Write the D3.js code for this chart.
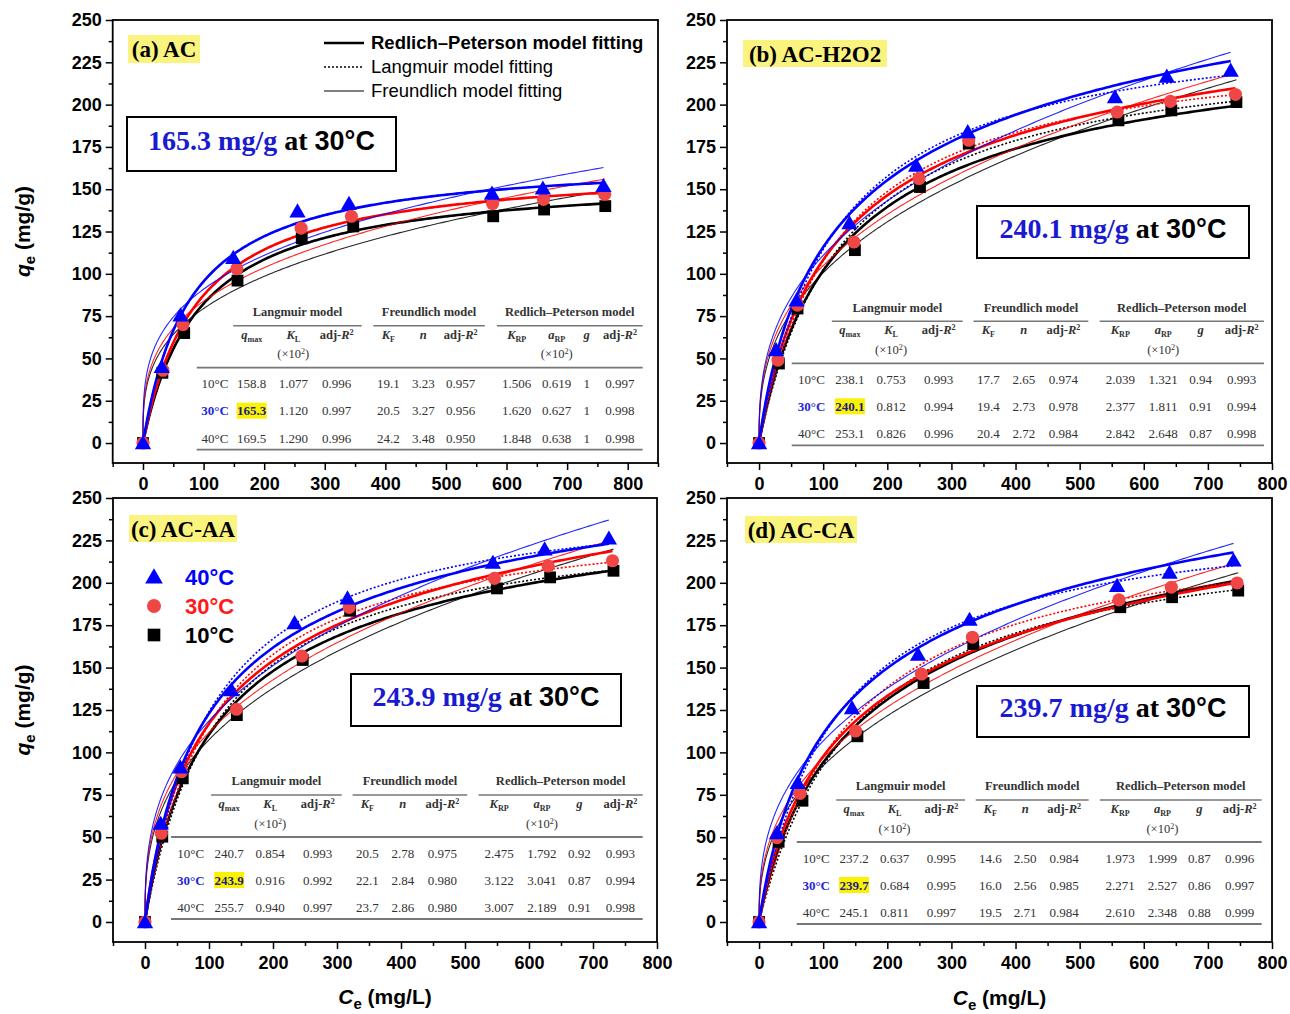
<!DOCTYPE html>
<html><head><meta charset="utf-8">
<script src="https://cdn.jsdelivr.net/npm/d3@7"></script>
<style>body{margin:0;background:#fff}svg{display:block}</style>
</head><body>
<svg id="chart" width="1290" height="1014"></svg>
<script>
// ---------------- DATA ----------------
const temps = ["10°C", "30°C", "40°C"];
const panelTitles = ["(a) AC", "(b) AC-H2O2", "(c) AC-AA", "(d) AC-CA"];
const capacityValues = ["165.3", "240.1", "243.9", "239.7"];
const xTickValues = [0, 100, 200, 300, 400, 500, 600, 700, 800];
const yTickValues = [0, 25, 50, 75, 100, 125, 150, 175, 200, 225, 250];
const legendLabels = ["Redlich\u2013Peterson model fitting", "Langmuir model fitting", "Freundlich model fitting"];
const groupNames = ["Langmuir model", "Freundlich model", "Redlich\u2013Peterson model"];

// (a) AC
const ceA10 = [0, 32, 68, 156, 262, 347, 578, 662, 763];
const qeA10 = [0, 41.5, 65, 96, 121, 128, 134, 138, 140];
const ceA30 = [0, 33, 66, 155, 261, 344, 577, 661, 762];
const qeA30 = [0, 43, 70, 103, 127, 134, 141.5, 144, 147];
const ceA40 = [0, 31, 62, 149, 255, 340, 576, 660, 760];
const qeA40 = [0, 45, 75.5, 109.5, 137, 141.5, 147.5, 150.5, 152];
// (b) AC-H2O2
const ceB10 = [0, 31, 60, 149.5, 251, 327, 560.5, 643, 744.5];
const qeB10 = [0, 47, 79.5, 114, 151.3, 177, 190.7, 196.6, 201.5];
const ceB30 = [0, 29.5, 60, 148, 249.5, 327, 558.5, 641.5, 743];
const qeB30 = [0, 49, 81.5, 118.8, 156.3, 178.9, 195.6, 201.9, 206];
const ceB40 = [0, 26.5, 58.5, 141, 245, 325.5, 555, 636, 735.5];
const qeB40 = [0, 55, 84.4, 130, 164, 183.8, 204.4, 216.6, 220.2];
// (c) AC-AA
const ceC10 = [0, 27, 59, 143.5, 246.5, 320.5, 550, 633, 732];
const qeC10 = [0, 50.3, 84.7, 122, 154.5, 183.5, 196.7, 203.2, 207.1];
const ceC30 = [0, 25.5, 57, 143, 245, 319, 546, 630, 730.5];
const qeC30 = [0, 52.3, 88.6, 125.4, 156.8, 185.5, 202.6, 209.9, 213];
const ceC40 = [0, 24.5, 55.3, 135, 233.7, 316.4, 543.6, 624.4, 724.8];
const qeC40 = [0, 58, 91.2, 136.8, 176.3, 190.9, 211.9, 219.8, 226.2];
// (d) AC-CA
const ceD10 = [0, 30.5, 67.7, 153.4, 256.6, 334, 563.4, 644.2, 747.3];
const qeD10 = [0, 47.3, 71.5, 109.5, 140.9, 163.9, 185.6, 191.5, 195.4];
const ceD30 = [0, 28, 64, 150.6, 253.3, 332.8, 561.2, 643, 745.6];
const qeD30 = [0, 49.7, 75.8, 112.6, 146.2, 167.9, 189.9, 197.4, 199.9];
const ceD40 = [0, 28, 60.3, 145, 248, 328.3, 558.4, 640.2, 740];
const qeD40 = [0, 52.5, 82, 126.2, 157.7, 178.3, 198.3, 206.1, 213.2];

// Table rows: qmax, KL(x10^2), adjR2, KF, n, adjR2, KRP, aRP(x10^2), g, adjR2
const tabA10 = ["158.8","1.077","0.996","19.1","3.23","0.957","1.506","0.619","1","0.997"];
const tabA30 = ["165.3","1.120","0.997","20.5","3.27","0.956","1.620","0.627","1","0.998"];
const tabA40 = ["169.5","1.290","0.996","24.2","3.48","0.950","1.848","0.638","1","0.998"];
const tabB10 = ["238.1","0.753","0.993","17.7","2.65","0.974","2.039","1.321","0.94","0.993"];
const tabB30 = ["240.1","0.812","0.994","19.4","2.73","0.978","2.377","1.811","0.91","0.994"];
const tabB40 = ["253.1","0.826","0.996","20.4","2.72","0.984","2.842","2.648","0.87","0.998"];
const tabC10 = ["240.7","0.854","0.993","20.5","2.78","0.975","2.475","1.792","0.92","0.993"];
const tabC30 = ["243.9","0.916","0.992","22.1","2.84","0.980","3.122","3.041","0.87","0.994"];
const tabC40 = ["255.7","0.940","0.997","23.7","2.86","0.980","3.007","2.189","0.91","0.998"];
const tabD10 = ["237.2","0.637","0.995","14.6","2.50","0.984","1.973","1.999","0.87","0.996"];
const tabD30 = ["239.7","0.684","0.995","16.0","2.56","0.985","2.271","2.527","0.86","0.997"];
const tabD40 = ["245.1","0.811","0.997","19.5","2.71","0.984","2.610","2.348","0.88","0.999"];

// ---------------- LAYOUT / STYLE ----------------
const SANS = "'Liberation Sans', Arial, sans-serif";
const SERIF = "'Liberation Serif', 'Times New Roman', serif";
const lineColor = ["#000000", "#ff0000", "#0000ff"];
const markColor = ["#000000", "#f04646", "#0000ff"];
const symbols = [d3.symbolSquare, d3.symbolCircle, d3.symbolTriangle];
const symSize = [140, 135, 115];
const yDomain = [-11.8, 250];

const panelData = [
  {ce: [ceA10, ceA30, ceA40], qe: [qeA10, qeA30, qeA40], tab: [tabA10, tabA30, tabA40]},
  {ce: [ceB10, ceB30, ceB40], qe: [qeB10, qeB30, qeB40], tab: [tabB10, tabB30, tabB40]},
  {ce: [ceC10, ceC30, ceC40], qe: [qeC10, qeC30, qeC40], tab: [tabC10, tabC30, tabC40]},
  {ce: [ceD10, ceD30, ceD40], qe: [qeD10, qeD30, qeD40], tab: [tabD10, tabD30, tabD40]}
];

const fracA = {cols: [0.041, 0.1233, 0.2166, 0.3139, 0.4296, 0.5081, 0.5919, 0.7175, 0.8072, 0.8744, 0.9491],
  groups: [[0.082, 0.370], [0.396, 0.646], [0.673, 1.0]]};
const fracB = {cols: [0.042, 0.1233, 0.2104, 0.3111, 0.4163, 0.4915, 0.5753, 0.6957, 0.7865, 0.8659, 0.9527],
  groups: [[0.085, 0.362], [0.385, 0.628], [0.652, 1.0]]};

const layouts = [
  {x0: 112.7, x1: 658, y0: 20, y1: 463, xDom: [-50, 850],
   title: {x: 128, y: 35, w: 72, h: 28}, cap: {x: 127, y: 117, w: 269, h: 54},
   table: {left: 196.7, right: 642.7, gy: 311.7, f: fracA}},
  {x0: 727, x1: 1272, y0: 20, y1: 463, xDom: [-50, 800],
   title: {x: 743, y: 40, w: 144, h: 27}, cap: {x: 977, y: 206, w: 272, h: 52},
   table: {left: 791.7, right: 1264, gy: 307.3, f: fracB}},
  {x0: 113, x1: 657, y0: 498, y1: 942, xDom: [-50, 800],
   title: {x: 129, y: 515, w: 108, h: 27}, cap: {x: 351, y: 674, w: 270, h: 52},
   table: {left: 171, right: 642.7, gy: 781, f: fracB}},
  {x0: 727, x1: 1272, y0: 498, y1: 942, xDom: [-50, 800],
   title: {x: 745, y: 516, w: 112, h: 27}, cap: {x: 977, y: 686, w: 272, h: 51},
   table: {left: 796.7, right: 1261.7, gy: 786, f: fracB}}
];

const svg = d3.select("#chart");

function rich(sel, parts) {
  let shift = 0;
  parts.forEach(p => {
    const ts = sel.append("tspan").text(p.t);
    if (p.i) ts.attr("font-style", "italic");
    const target = p.sub ? (p.dy || 3) : p.sup ? -(p.dy || 4) : 0;
    ts.attr("dy", target - shift);
    shift = target;
    if (p.sub || p.sup || p.fs) ts.attr("font-size", p.fs || "0.65em");
  });
}

layouts.forEach((L, pi) => {
  const P = panelData[pi];
  const x = d3.scaleLinear().domain(L.xDom).range([L.x0, L.x1]);
  const y = d3.scaleLinear().domain(yDomain).range([L.y1, L.y0]);
  const g = svg.append("g");

  // axes
  const xa = g.append("g").attr("transform", `translate(0,${L.y1})`)
    .call(d3.axisBottom(x).tickValues(xTickValues).tickSize(7).tickPadding(7).tickFormat(d3.format("d")));
  const xm = g.append("g").attr("transform", `translate(0,${L.y1})`)
    .call(d3.axisBottom(x).tickValues(d3.range(-50, L.xDom[1] + 1, 100)).tickSize(4).tickFormat(""));
  const ya = g.append("g").attr("transform", `translate(${L.x0},0)`)
    .call(d3.axisLeft(y).tickValues(yTickValues).tickSize(7).tickPadding(4).tickFormat(d3.format("d")));
  const ym = g.append("g").attr("transform", `translate(${L.x0},0)`)
    .call(d3.axisLeft(y).tickValues(d3.range(12.5, 250, 25)).tickSize(4).tickFormat(""));
  [xa, xm, ya, ym].forEach(a => {
    a.select(".domain").remove();
    a.selectAll("line").attr("stroke", "#000").attr("stroke-width", 1.5);
    a.selectAll("text").attr("font-family", SANS).attr("font-weight", "bold")
      .attr("font-size", "18px").attr("fill", "#000");
  });

  // frame
  g.append("rect").attr("x", L.x0).attr("y", L.y0).attr("width", L.x1 - L.x0).attr("height", L.y1 - L.y0)
    .attr("fill", "none").attr("stroke", "#000").attr("stroke-width", 1.8);

  // table
  const T = L.table, W = T.right - T.left, fx = f => T.left + f * W;
  const tg = g.append("g").attr("font-family", SERIF).attr("fill", "#333");
  groupNames.forEach((name, k) => {
    const [a, b] = T.f.groups[k];
    tg.append("text").attr("x", fx((a + b) / 2)).attr("y", T.gy).attr("dy", "0.35em")
      .attr("text-anchor", "middle").attr("font-weight", "bold").attr("font-size", "12.5px").text(name);
    tg.append("line").attr("x1", fx(a)).attr("x2", fx(b)).attr("y1", T.gy + 14).attr("y2", T.gy + 14)
      .attr("stroke", "#777").attr("stroke-width", 1.4);
  });
  const adj = [{t: "adj-"}, {t: "R", i: 1}, {t: "2", sup: 1}];
  const headers = [
    [{t: "q", i: 1}, {t: "max", sub: 1}],
    [{t: "K", i: 1}, {t: "L", sub: 1}],
    adj,
    [{t: "K", i: 1}, {t: "F", sub: 1}],
    [{t: "n", i: 1}],
    adj,
    [{t: "K", i: 1}, {t: "RP", sub: 1}],
    [{t: "a", i: 1}, {t: "RP", sub: 1}],
    [{t: "g", i: 1}],
    adj
  ];
  headers.forEach((h, k) => {
    const t = tg.append("text").attr("x", fx(T.f.cols[k + 1])).attr("y", T.gy + 27).attr("dy", "0.35em")
      .attr("text-anchor", "middle").attr("font-weight", "bold").attr("font-size", "12.5px");
    rich(t, h);
  });
  [1, 7].forEach(k => {
    const t = tg.append("text").attr("x", fx(T.f.cols[k + 1])).attr("y", T.gy + 46.5).attr("dy", "0.35em")
      .attr("text-anchor", "middle").attr("font-size", "12.5px");
    rich(t, [{t: "(\u00d710"}, {t: "2", sup: 1}, {t: ")"}]);
  });
  tg.append("line").attr("x1", T.left).attr("x2", T.right).attr("y1", T.gy + 56).attr("y2", T.gy + 56)
    .attr("stroke", "#777").attr("stroke-width", 1.8);
  tg.append("line").attr("x1", T.left).attr("x2", T.right).attr("y1", T.gy + 138).attr("y2", T.gy + 138)
    .attr("stroke", "#777").attr("stroke-width", 1.8);
  const rowY = [T.gy + 72, T.gy + 99, T.gy + 126.5];
  P.tab.forEach((row, r) => {
    const lbl = tg.append("text").attr("x", fx(T.f.cols[0])).attr("y", rowY[r]).attr("dy", "0.35em")
      .attr("text-anchor", "middle").attr("font-size", "13px").text(temps[r]);
    if (r === 1) lbl.attr("fill", "#2626d9").attr("font-weight", "bold");
    row.forEach((v, k) => {
      const cx = fx(T.f.cols[k + 1]);
      if (r === 1 && k === 0) {
        tg.append("rect").attr("x", cx - 15).attr("y", rowY[r] - 8).attr("width", 30).attr("height", 16)
          .attr("fill", "#fbf200");
      }
      const t = tg.append("text").attr("x", cx).attr("y", rowY[r]).attr("dy", "0.35em")
        .attr("text-anchor", "middle").attr("font-size", "13px").text(v);
      if (r === 1 && k === 0) t.attr("font-weight", "bold").attr("fill", "#1c1c8c");
    });
  });

  // fitted model curves, evaluated from the table's parameters
  const lineGen = d3.line().x(d => x(d[0])).y(d => y(d[1]));
  temps.forEach((tp, ti) => {
    const ce = P.ce[ti], prm = P.tab[ti].map(Number);
    const cMax = ce[ce.length - 1];
    const cs = d3.range(0, 241).map(i => cMax * Math.pow(i / 240, 2));
    const qmax = prm[0], KL = prm[1] / 100, KF = prm[3], nF = prm[4];
    const KRP = prm[6], aRP = prm[7] / 100, gRP = prm[8];
    const lang = c => qmax * KL * c / (1 + KL * c);
    const fr = cs.map(c => [c, KF * Math.pow(c, 1 / nF)]);
    const la = cs.map(c => [c, lang(c)]);
    // g = 1 reduces Redlich–Peterson to the Langmuir form
    const rp = cs.map(c => [c, gRP === 1 ? lang(c) : KRP * c / (1 + aRP * Math.pow(c, gRP))]);
    g.append("path").attr("d", lineGen(fr)).attr("fill", "none").attr("stroke", lineColor[ti])
      .attr("stroke-width", 1.1).attr("opacity", 0.85);
    g.append("path").attr("d", lineGen(la)).attr("fill", "none").attr("stroke", lineColor[ti])
      .attr("stroke-width", 1.6).attr("stroke-dasharray", "2,2");
    g.append("path").attr("d", lineGen(rp)).attr("fill", "none").attr("stroke", lineColor[ti])
      .attr("stroke-width", 2.6);
  });
  // markers
  temps.forEach((tp, ti) => {
    const pts = P.ce[ti].map((c, j) => [c, P.qe[ti][j]]);
    g.selectAll(null).data(pts).enter().append("path")
      .attr("d", d3.symbol().type(symbols[ti]).size(symSize[ti]))
      .attr("transform", d => `translate(${x(d[0])},${y(d[1]) + (ti === 2 ? 1.5 : 0)})`)
      .attr("fill", markColor[ti]);
  });

  // title label
  g.append("rect").attr("x", L.title.x).attr("y", L.title.y).attr("width", L.title.w).attr("height", L.title.h)
    .attr("fill", "#faf37e");
  g.append("text").attr("x", L.title.x + L.title.w / 2).attr("y", L.title.y + L.title.h / 2).attr("dy", "0.35em")
    .attr("text-anchor", "middle").attr("font-family", SERIF).attr("font-weight", "bold")
    .attr("font-size", "23px").attr("fill", "#000").text(panelTitles[pi]);

  // capacity box
  const C = L.cap;
  g.append("rect").attr("x", C.x).attr("y", C.y).attr("width", C.w).attr("height", C.h)
    .attr("fill", "#fff").attr("stroke", "#000").attr("stroke-width", 2);
  const ct = g.append("text").attr("x", C.x + C.w / 2).attr("y", C.y + C.h / 2).attr("dy", "0.36em")
    .attr("text-anchor", "middle").attr("font-weight", "bold");
  ct.append("tspan").attr("font-family", SERIF).attr("font-size", "28px").attr("fill", "#1a1ad0")
    .text(capacityValues[pi] + " mg/g");
  ct.append("tspan").attr("font-family", SERIF).attr("font-size", "28px").attr("fill", "#000").text(" at ");
  ct.append("tspan").attr("font-family", SANS).attr("font-size", "27px").attr("fill", "#000").text("30\u00b0C");

  // axis titles
  if (pi === 0 || pi === 2) {
    const yt = g.append("text").attr("transform", `translate(30,${(L.y0 + L.y1) / 2 - 10}) rotate(-90)`)
      .attr("text-anchor", "middle").attr("font-family", SANS).attr("font-weight", "bold").attr("font-size", "21px");
    rich(yt, [{t: "q", i: 1}, {t: "e", sub: 1, dy: 5, fs: "15px"}, {t: " (mg/g)"}]);
  }
  if (pi >= 2) {
    const xt = g.append("text").attr("x", (L.x0 + L.x1) / 2).attr("y", pi === 2 ? 1004 : 1005)
      .attr("text-anchor", "middle").attr("font-family", SANS).attr("font-weight", "bold").attr("font-size", "21px");
    rich(xt, [{t: "C", i: 1}, {t: "e", sub: 1, dy: 5, fs: "15px"}, {t: " (mg/L)"}]);
  }
});

// legend for models (panel a)
const lg = svg.append("g");
const legY = [43, 67, 91];
const legW = [2.6, 1.6, 1.1];
legendLabels.forEach((lab, k) => {
  const ln = lg.append("line").attr("x1", 324).attr("x2", 364).attr("y1", legY[k]).attr("y2", legY[k])
    .attr("stroke", "#000").attr("stroke-width", legW[k]);
  if (k === 1) ln.attr("stroke-dasharray", "2,2");
  lg.append("text").attr("x", 371).attr("y", legY[k]).attr("dy", "0.35em").attr("font-family", SANS)
    .attr("font-size", "18.5px").attr("font-weight", k === 0 ? "bold" : "normal").attr("fill", "#000").text(lab);
});

// legend for temperatures (panel c)
const tl = svg.append("g");
const tLegY = [635, 606, 577];
temps.forEach((tp, ti) => {
  tl.append("path").attr("d", d3.symbol().type(symbols[ti]).size(symSize[ti] + 20))
    .attr("transform", `translate(154,${tLegY[ti] + (ti === 2 ? 1.5 : 0)})`).attr("fill", markColor[ti]);
  tl.append("text").attr("x", 185).attr("y", tLegY[ti]).attr("dy", "0.36em").attr("font-family", SANS)
    .attr("font-weight", "bold").attr("font-size", "22px").attr("fill", ti === 1 ? "#ff1a1a" : lineColor[ti]).text(tp);
});
</script>
</body></html>
